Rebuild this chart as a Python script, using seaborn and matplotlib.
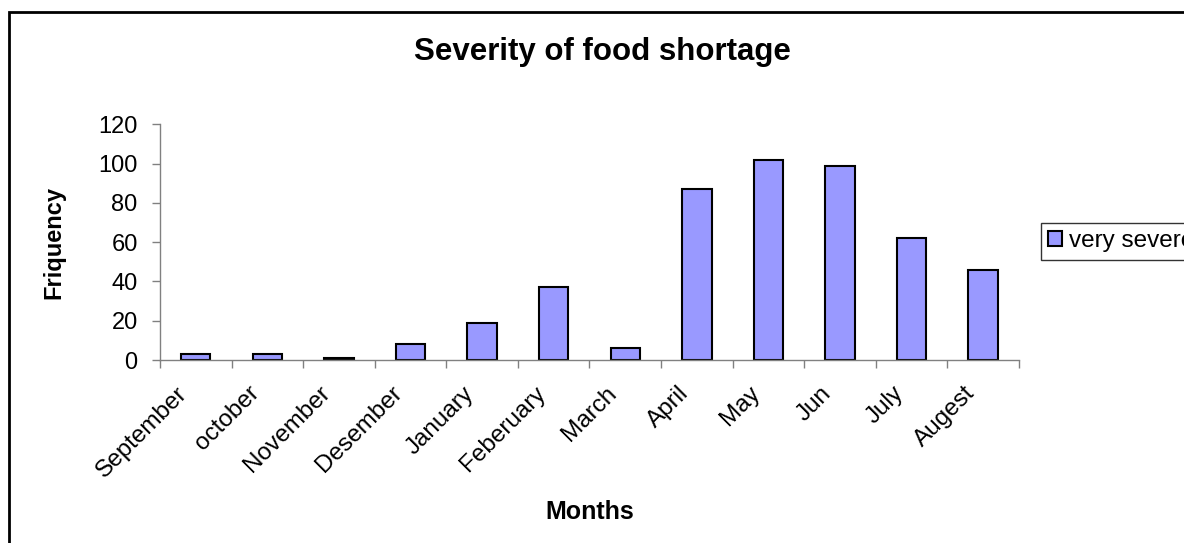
import matplotlib
matplotlib.use('Agg')
import matplotlib.pyplot as plt
import matplotlib.patches as mpatches
import matplotlib.transforms as mtransforms
import seaborn as sns
import pandas as pd
import numpy as np

# Data
months = ['September', 'october', 'November', 'Desember', 'January', 'Feberuary',
          'March', 'April', 'May', 'Jun', 'July', 'Augest']
very_severe = [3, 3, 1, 8, 19, 37, 6, 87, 102, 99, 62, 46]

df = pd.DataFrame({'month': months, 'count': very_severe})

sns.set_style('white')
plt.rcParams['font.family'] = ['Liberation Sans', 'DejaVu Sans']
plt.rcParams['text.color'] = 'black'
plt.rcParams['axes.labelcolor'] = 'black'

fig = plt.figure(figsize=(11.84, 5.43), dpi=100)
ax = fig.add_axes([0.1351, 0.337, 0.7255, 0.434])

sns.barplot(data=df, x='month', y='count', color='#9999FF', saturation=1,
            edgecolor='black', linewidth=1.5, width=0.41, label='very severe', ax=ax)

# Axis limits and ticks (Excel style: ticks between categories)
ax.set_xlim(-0.5, len(months) - 0.5)
ax.set_ylim(0, 120)
ax.set_yticks(np.arange(0, 121, 20))
ax.set_xticks(np.arange(-0.5, len(months), 1))
ax.set_xticklabels([])
ax.set_xticks(np.arange(len(months)), minor=True)
ax.set_xticklabels(months, minor=True, rotation=45, ha='right', rotation_mode='anchor',
                   fontsize=17.5)
ax.tick_params(axis='x', which='minor', length=0, pad=16, labelcolor='black')
ax.tick_params(axis='x', which='major', length=6, width=1, color='#808080', direction='out')
ax.tick_params(axis='y', length=6, width=1, color='#808080', direction='out',
               labelsize=17, labelcolor='black', pad=10)
ax.tick_params(bottom=True, left=True)

# shift the rotated month labels a little to the left
shift = mtransforms.ScaledTranslation(-14 / 72, 0, fig.dpi_scale_trans)
for lbl in ax.get_xticklabels(minor=True):
    lbl.set_transform(lbl.get_transform() + shift)

for side in ['top', 'right']:
    ax.spines[side].set_visible(False)
for side in ['left', 'bottom']:
    ax.spines[side].set_color('#808080')
    ax.spines[side].set_linewidth(1)

ax.set_xlabel('Months', fontsize=18, fontweight='bold', labelpad=13)
ax.set_ylabel('Friquency', fontsize=17, fontweight='bold', labelpad=24)
fig.text(0.509, 0.905, 'Severity of food shortage', ha='center', va='center',
         fontsize=22.5, fontweight='bold')

# Legend, partly outside the figure like the reference
leg = ax.legend(loc='upper left', bbox_to_anchor=(1041 / 1184, 1 - 223 / 543),
                bbox_transform=fig.transFigure, frameon=True, fancybox=False,
                fontsize=17.5, handlelength=0.55, handleheight=0.55, handletextpad=0.3,
                borderpad=0.3, borderaxespad=0)
leg.get_frame().set_edgecolor('black')
leg.get_frame().set_linewidth(1)

# Outer chart border
border = mpatches.Rectangle((9 / 1184, -0.05), 1.2, 1 - 12 / 543 + 0.05,
                            transform=fig.transFigure, fill=False,
                            edgecolor='black', linewidth=2, clip_on=False)
fig.patches.append(border)

fig.savefig('out.png', dpi=100)
